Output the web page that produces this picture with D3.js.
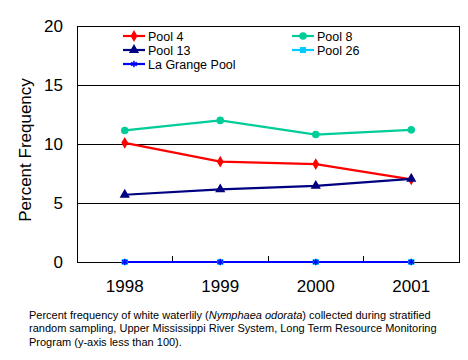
<!DOCTYPE html>
<html><head><meta charset="utf-8">
<script src="https://cdn.jsdelivr.net/npm/d3@7"></script>
<style>body{margin:0;background:#fff}svg{display:block}</style>
</head><body>
<svg id="c" width="468" height="360"></svg>
<script>
const years = ["1998","1999","2000","2001"];
const pool4 = [10.1, 8.5, 8.3, 7.0];
const pool8 = [11.15, 12.0, 10.8, 11.2];
const pool13 = [5.7, 6.15, 6.45, 7.05];
const pool26 = [0, 0, 0, 0];
const laGrange = [0, 0, 0, 0];
const yTicks = [0, 5, 10, 15, 20];
const seriesNames = ["Pool 4","Pool 8","Pool 13","Pool 26","La Grange Pool"];
const seriesColors = ["#FF0000","#00CC99","#000080","#00CCFF","#0000FF"];
const seriesShapes = ["diamond","circle","triangle","square","star"];
const seriesValues = [pool4, pool8, pool13, pool26, laGrange];

const svg = d3.select("#c");
const L = 77, R = 459, T = 26, B = 262;
const x = d3.scaleBand().domain(years).range([L, R]);
const y = d3.scaleLinear().domain([0, 20]).range([B, T]);
const font = "Arial, 'Liberation Sans', sans-serif";

// gridlines
svg.append("g").selectAll("line").data(yTicks.filter(t => t > 0 && t < 20)).join("line")
  .attr("x1", L).attr("x2", R).attr("y1", d => y(d)).attr("y2", d => y(d))
  .attr("stroke", "#000").attr("stroke-width", 1).attr("shape-rendering","crispEdges");
// frame
svg.append("rect").attr("x", L).attr("y", T).attr("width", R - L).attr("height", B - T)
  .attr("fill", "none").attr("stroke", "#000").attr("stroke-width", 1).attr("shape-rendering","crispEdges");

// y axis labels
svg.append("g").selectAll("text").data(yTicks).join("text")
  .attr("x", L - 14).attr("y", d => y(d)).attr("dy", "0.36em")
  .attr("text-anchor", "end").attr("font-family", font).attr("font-size", 17)
  .text(d => d);

// x axis: labels and inner ticks at band boundaries
svg.append("g").selectAll("text").data(years).join("text")
  .attr("x", d => x(d) + x.bandwidth() / 2).attr("y", B + 30)
  .attr("text-anchor", "middle").attr("font-family", font).attr("font-size", 17)
  .text(d => d);
svg.append("g").selectAll("line").data(years.slice(1)).join("line")
  .attr("x1", d => x(d)).attr("x2", d => x(d)).attr("y1", B).attr("y2", B - 6)
  .attr("stroke", "#000").attr("shape-rendering","crispEdges");

// y title
svg.append("text").attr("transform", `translate(31,${(T + B) / 2 + 6}) rotate(-90)`)
  .attr("text-anchor", "middle").attr("font-family", font).attr("font-size", 17)
  .text("Percent Frequency");

function marker(g, shape, color, cx, cy) {
  const sym = {diamond: d3.symbolDiamond, circle: d3.symbolCircle, triangle: d3.symbolTriangle,
               square: d3.symbolSquare, star: d3.symbolAsterisk}[shape];
  const size = {diamond: 40, circle: 45, triangle: 45, square: 36, star: 30}[shape];
  g.append("path").attr("d", d3.symbol(sym, size)())
    .attr("transform", `translate(${cx},${cy})`)
    .attr("fill", color).attr("stroke", shape === "star" ? color : "none").attr("stroke-width", 1.5);
}

const line = d3.line().x((d, i) => x(years[i]) + x.bandwidth() / 2).y(d => y(d));
const order = [1, 0, 2, 3, 4];
order.forEach(k => {
  svg.append("g").append("path").datum(seriesValues[k]).attr("d", line)
    .attr("fill", "none").attr("stroke", seriesColors[k]).attr("stroke-width", 2.2);
});
order.forEach(k => {
  const g = svg.append("g");
  seriesValues[k].forEach((v, i) => {
    if (k === 4) return;
    marker(g, seriesShapes[k], seriesColors[k], x(years[i]) + x.bandwidth() / 2, y(v));
  });
});
seriesValues[4].forEach((v, i) => marker(svg.append("g"), "star", seriesColors[4], x(years[i]) + x.bandwidth() / 2, y(v)));

// legend
const legPos = [[123, 36], [292, 36], [123, 50], [292, 50], [123, 64]];
seriesNames.forEach((n, k) => {
  const [lx, ly] = legPos[k];
  const g = svg.append("g");
  g.append("line").attr("x1", lx).attr("x2", lx + 22).attr("y1", ly).attr("y2", ly)
    .attr("stroke", seriesColors[k]).attr("stroke-width", 2.2);
  marker(g, seriesShapes[k], seriesColors[k], lx + 11, ly);
  g.append("text").attr("x", lx + 25).attr("y", ly).attr("dy", "0.36em")
    .attr("font-family", font).attr("font-size", 12.5).text(n);
});

// caption
const cap = svg.append("text").attr("font-family", font).attr("font-size", 11);
const l1 = cap.append("tspan").attr("x", 29).attr("y", 319);
l1.append("tspan").text("Percent frequency of white waterlily (");
l1.append("tspan").attr("font-style", "italic").text("Nymphaea odorata");
l1.append("tspan").text(") collected during stratified");
cap.append("tspan").attr("x", 29).attr("y", 332).text("random sampling, Upper Mississippi River System, Long Term Resource Monitoring");
cap.append("tspan").attr("x", 29).attr("y", 346).text("Program (y-axis less than 100).");
</script>
</body></html>
